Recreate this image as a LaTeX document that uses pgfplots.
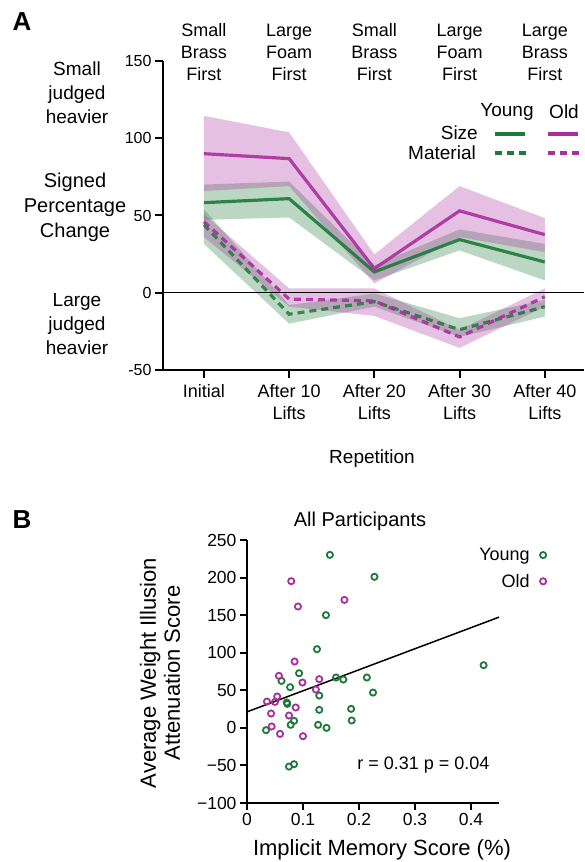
\documentclass[border=0pt]{standalone}
\usepackage{pgfplots}
\pgfplotsset{compat=1.18}
\usepackage{fontspec}
\setmainfont{Liberation Sans}
\definecolor{young}{RGB}{30,122,58}
\definecolor{old}{RGB}{168,48,158}
\newcommand\fsT{\fontsize{16}{20}\selectfont}
\newcommand\fsX{\fontsize{18}{22}\selectfont}
\newcommand\fsL{\fontsize{19}{24}\selectfont}
\newcommand\fsB{\fontsize{22}{24}\selectfont}

\begin{document}
\begin{tikzpicture}
\path[use as bounding box] (0,0) rectangle (584pt,862pt);

% ---------------- panel A
\begin{axis}[
  at={(163pt,492pt)}, anchor=south west,
  scale only axis, width=421pt, height=309pt,
  xmin=-0.48, xmax=4.46, ymin=-50, ymax=150,
  axis lines=left,
  axis line style={-, line width=2pt},
  tick style={black, line width=2pt},
  tick align=outside, major tick length=8pt,
  xtick={0,1,2,3,4},
  xticklabels={Initial, After 10\\Lifts, After 20\\Lifts, After 30\\Lifts, After 40\\Lifts},
  xticklabel style={align=center, font=\fsX, yshift=-3pt},
  ytick={-50,0,50,100,150},
  yticklabel style={font=\fsT},
  /pgf/number format/assume math mode=true,
  clip=false,
]
% bands
\addplot[draw=none, fill=young, fill opacity=0.3] coordinates {
  (0,70) (1,72) (2,17.7) (3,41) (4,31.6)
  (4,8) (3,27.4) (2,8) (1,48.7) (0,47.2)};
\addplot[draw=none, fill=old, fill opacity=0.3] coordinates {
  (0,114.5) (1,103.8) (2,24.8) (3,69) (4,48.3)
  (4,26.3) (3,36) (2,6) (1,69) (0,65.8)};
\addplot[draw=none, fill=young, fill opacity=0.3] coordinates {
  (0,54) (1,-8) (2,-0.5) (3,-16.5) (4,-4.7)
  (4,-15.4) (3,-28.6) (2,-9) (1,-20) (0,31.6)};
\addplot[draw=none, fill=old, fill opacity=0.3] coordinates {
  (0,50.9) (1,2.8) (2,2.8) (3,-24) (4,2.8)
  (4,-9) (3,-35.7) (2,-15) (1,-9) (0,36)};
% zero line
\addplot[black, line width=1.5pt] coordinates {(-0.48,0) (4.46,0)};
% means
\addplot[young, line width=3.2pt, opacity=0.9] coordinates {
  (0,58.3) (1,60.9) (2,13.5) (3,34.4) (4,19.9)};
\addplot[old, line width=3.2pt, opacity=0.9] coordinates {
  (0,90) (1,86.8) (2,15.6) (3,53) (4,37.6)};
\addplot[young, line width=3.2pt, opacity=0.85, dash pattern=on 7pt off 5pt] coordinates {
  (0,44) (1,-13.9) (2,-5.8) (3,-23.9) (4,-9)};
\addplot[old, line width=3.2pt, opacity=0.9, dash pattern=on 7pt off 5pt] coordinates {
  (0,46) (1,-4.1) (2,-5.3) (3,-28.6) (4,-2.6)};
% condition labels above
\foreach \i/\t in {0/Small\\Brass\\First, 1/Large\\Foam\\First, 2/Small\\Brass\\First,
                   3/Large\\Foam\\First, 4/Large\\Brass\\First}{
  \edef\temp{\noexpand\node[align=center, font=\noexpand\fsX, inner sep=0pt]
    at (axis cs:\i,150) [yshift=9pt] {\t};}
  \temp
}
\end{axis}

% left annotations
\node[align=center, font=\fsL, inner sep=0pt] at (77pt,769pt) {Small\\judged\\heavier};
\node[align=center, font=\fontsize{20}{25}\selectfont, inner sep=0pt] at (75pt,655pt) {Signed\\Percentage\\Change};
\node[align=center, font=\fsL, inner sep=0pt] at (77pt,538pt) {Large\\judged\\heavier};
\node[font=\fontsize{19}{24}\selectfont] at (372pt,403pt) {Repetition};
\node[font=\fontsize{26}{30}\selectfont\bfseries] at (22pt,840pt) {A};
\node[font=\fontsize{26}{30}\selectfont\bfseries] at (22pt,342pt) {B};

% legend of panel A
\node[font=\fsL, inner sep=0pt] at (507pt,750pt) {Young};
\node[font=\fsL, inner sep=0pt] at (564pt,750pt) {Old};
\node[font=\fsL, inner sep=0pt, anchor=east] at (478pt,729pt) {Size};
\node[font=\fsL, inner sep=0pt, anchor=east] at (476pt,709pt) {Material};
\draw[young, line width=3.2pt] (495pt,728pt) -- (525pt,728pt);
\draw[old, line width=3.2pt] (548pt,728pt) -- (578pt,728pt);
\draw[young, line width=3.2pt, dash pattern=on 7pt off 5pt] (495pt,709pt) -- (527pt,709pt);
\draw[old, line width=3.2pt, dash pattern=on 7pt off 5pt] (548pt,709pt) -- (580pt,709pt);

% ---------------- panel B
\begin{axis}[
  at={(247pt,59pt)}, anchor=south west,
  scale only axis, width=252pt, height=263pt,
  xmin=0, xmax=0.45, ymin=-100, ymax=250,
  axis lines=left,
  axis line style={-, line width=2pt},
  tick style={black, line width=2pt},
  tick align=outside, major tick length=7pt,
  xtick={0,0.1,0.2,0.3,0.4},
  xticklabels={0,0.1,0.2,0.3,0.4},
  ytick={-100,-50,0,50,100,150,200,250},
  yticklabels={−100,−50,0,50,100,150,200,250},
  ticklabel style={font=\fontsize{17.5}{20}\selectfont},
  clip=false,
  legend plot pos=right,
  legend cell align=right,
  legend image code/.code={\path[draw=none, fill=none] (0cm,0cm) -- (0.4cm,0cm);
    \draw[#1] plot coordinates {(0.4cm,0cm)};},
  legend style={draw=none, fill=none, font=\fontsize{18}{22}\selectfont,
    at={(1.2,0.985)}, anchor=north east, row sep=8pt},
]
\addplot[only marks, mark=o, mark size=3.1pt, young, line width=1.8pt] coordinates {
  (0.148,230.2) (0.2276,201) (0.141,150) (0.125,104.7) (0.4225,83.4)
  (0.093,72.7) (0.0616,62.5) (0.077,54.1) (0.159,67) (0.172,64.3)
  (0.214,67) (0.129,43) (0.225,47) (0.072,31.9) (0.071,33.7)
  (0.129,24) (0.186,25.3) (0.084,9.3) (0.078,4) (0.127,4)
  (0.142,0) (0.187,9.8) (0.034,-3.1) (0.075,-51.5) (0.084,-48.4)};
\addlegendentry{Young}
\addplot[only marks, mark=o, mark size=3.1pt, old, line width=1.8pt] coordinates {
  (0.079,195.2) (0.091,161.5) (0.174,170.3) (0.085,88.3) (0.057,69.2)
  (0.129,64.8) (0.099,60.3) (0.123,51) (0.054,41.7) (0.0356,35)
  (0.050,34.6) (0.087,27.1) (0.043,19.1) (0.075,16.4) (0.044,1.8)
  (0.059,-8) (0.100,-11.1)};
\addlegendentry{Old}
\addplot[black, line width=1.5pt, forget plot] coordinates {(0,21.3) (0.45,147.3)};
\node[font=\fontsize{18}{22}\selectfont] at (axis cs:0.315,-50) {r = 0.31 p = 0.04};
\end{axis}

\node[font=\fontsize{20}{24}\selectfont] at (360pt,341pt) {All Participants};
\node[font=\fsB, align=center, rotate=90, inner sep=0pt] at (160pt,189pt)
  {Average Weight Illusion\\Attenuation Score};
\node[font=\fsB] at (382pt,12pt) {Implicit Memory Score (\%)};
\end{tikzpicture}
\end{document}
